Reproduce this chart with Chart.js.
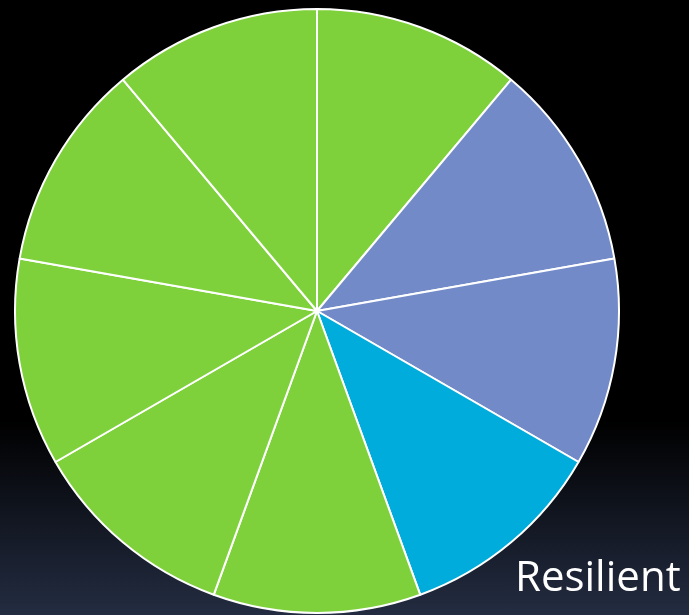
<!DOCTYPE html>
<html>
<head>
<meta charset="utf-8">
<script src="https://cdn.jsdelivr.net/npm/chart.js@4"></script>
<style>
  html, body { margin: 0; padding: 0; }
  body {
    width: 689px; height: 615px; overflow: hidden; position: relative;
    background: linear-gradient(to bottom, #000000 0px, #000000 420px, #232c41 615px);
  }
  #wrap { position: absolute; left: 0; top: 0; width: 689px; height: 615px; }
  #caption {
    position: absolute; left: 515px; top: 554px;
    font-family: "Open Sans", sans-serif; font-size: 42px; color: #ffffff;
    line-height: 1; white-space: nowrap;
  }
</style>
</head>
<body>
<div id="wrap"><canvas id="pie" width="689" height="615"></canvas></div>
<div id="caption">Resilient</div>
<script>
// Nine equal segments, clockwise from 12 o'clock
const segments = ['1', '2', '3', '4', '5', '6', '7', '8', '9'];
const shares = [1, 1, 1, 1, 1, 1, 1, 1, 1];
const segmentColors = ['#7fd13b', '#728ac8', '#728ac8', '#00acdc', '#7fd13b', '#7fd13b', '#7fd13b', '#7fd13b', '#7fd13b'];

new Chart(document.getElementById('pie'), {
  type: 'pie',
  data: {
    labels: segments,
    datasets: [{
      data: shares,
      backgroundColor: segmentColors,
      borderColor: '#ffffff',
      borderWidth: 2
    }]
  },
  options: {
    responsive: false,
    animation: false,
    events: [],
    layout: { padding: { left: 14, right: 69, top: 8, bottom: 1 } },
    plugins: { legend: { display: false }, tooltip: { enabled: false } }
  }
});
</script>
</body>
</html>
